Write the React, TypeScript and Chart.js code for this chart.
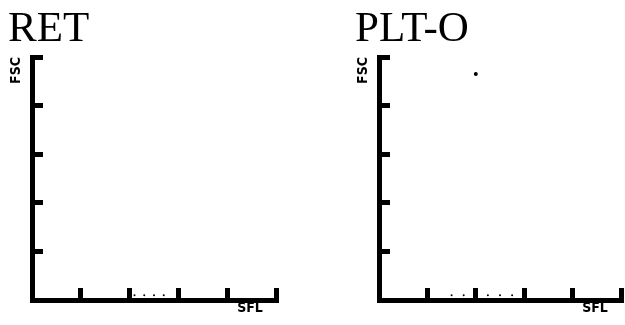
import React, { useEffect, useRef } from "react";
import { Chart, registerables } from "chart.js";

Chart.register(...registerables);

// Axis ranges / ticks (arbitrary channel units)
const AXIS_MIN = 0;
const AXIS_MAX = 5;
const AXIS_STEP = 1;

// Panel titles and axis labels
const TITLES = ["RET", "PLT-O"];
const X_LABEL = "SFL";
const Y_LABEL = "FSC";

// RET scattergram events (SFL, FSC)
const retSFL = [2.1, 2.3, 2.5, 2.7];
const retFSC = [0.1, 0.1, 0.1, 0.1];

// PLT-O scattergram events (SFL, FSC)
const pltSFL = [2.0, 1.5, 1.75, 2.0, 2.25, 2.5, 2.75];
const pltFSC = [4.65, 0.1, 0.1, 0.1, 0.1, 0.1, 0.1];

type PanelProps = {
  title: string;
  xs: number[];
  ys: number[];
  width: number;
  left: number;
  padLeft: number;
  padRight: number;
};

function Panel({ title, xs, ys, width, left, padLeft, padRight }: PanelProps) {
  const ref = useRef<HTMLCanvasElement | null>(null);

  useEffect(() => {
    if (!ref.current) return;
    const pts = xs.map((x, i) => ({ x, y: ys[i] }));
    const radii = xs.map((_, i) => (ys[i] > 1 ? 2 : 1));
    const labelFont = { family: "'DejaVu Sans Condensed', 'DejaVu Sans', sans-serif", size: 14, weight: "bold", lineHeight: 1.2 };
    const axisCommon = {
      min: AXIS_MIN,
      max: AXIS_MAX,
      border: { display: true, color: "#000", width: 5 },
      grid: {
        display: true,
        drawOnChartArea: false,
        drawTicks: true,
        color: "#000",
        tickColor: "#000",
        lineWidth: 5,
        tickWidth: 5,
      },
    };
    const chart = new Chart(ref.current, {
      type: "scatter",
      data: {
        datasets: [
          {
            data: pts,
            backgroundColor: "#000",
            borderColor: "#000",
            pointRadius: radii,
            pointBorderWidth: 0,
          },
        ],
      },
      options: {
        responsive: false,
        devicePixelRatio: 1,
        animation: false,
        layout: { padding: { left: padLeft, right: padRight, top: 0, bottom: 0 } },
        plugins: {
          legend: { display: false },
          tooltip: { enabled: false },
          title: {
            display: true,
            text: title,
            align: "start",
            color: "#000",
            font: { family: "'Liberation Serif', 'Times New Roman', serif", size: 43, weight: "normal", lineHeight: 1 },
            padding: { top: 8, bottom: 6 },
          },
        },
        scales: {
          x: {
            ...axisCommon,
            type: "linear",
            position: "bottom",
            grid: { ...axisCommon.grid, tickLength: -12 },
            ticks: { display: false, stepSize: AXIS_STEP },
            title: {
              display: true,
              text: X_LABEL + "\u00a0\u00a0\u00a0",
              align: "end",
              color: "#000",
              font: labelFont,
              padding: { top: 0, bottom: 8 },
            },
            afterFit: (s: any) => {
              s.height = 25;
            },
          },
          y: {
            ...axisCommon,
            type: "linear",
            position: "left",
            grid: { ...axisCommon.grid, tickLength: -11 },
            ticks: { display: false, stepSize: AXIS_STEP },
            title: {
              display: true,
              text: Y_LABEL,
              align: "end",
              color: "#000",
              font: labelFont,
              padding: { top: 0, bottom: 0 },
            },
            afterFit: (s: any) => {
              s.width = 24;
            },
          },
        },
      } as any,
    });
    return () => chart.destroy();
  }, [title, xs, ys, padLeft, padRight]);

  return (
    <canvas
      ref={ref}
      width={width}
      height={325}
      style={{ position: "absolute", left, top: 0, width, height: 325, display: "block" }}
    />
  );
}

export default function App() {
  return (
    <div style={{ position: "absolute", left: 0, top: 0, width: 625, height: 325, background: "#fff" }}>
      <Panel title={TITLES[0]} xs={retSFL} ys={retFSC} width={312} left={0} padLeft={8} padRight={36} />
      <Panel title={TITLES[1]} xs={pltSFL} ys={pltFSC} width={313} left={312} padLeft={43} padRight={3} />
    </div>
  );
}
